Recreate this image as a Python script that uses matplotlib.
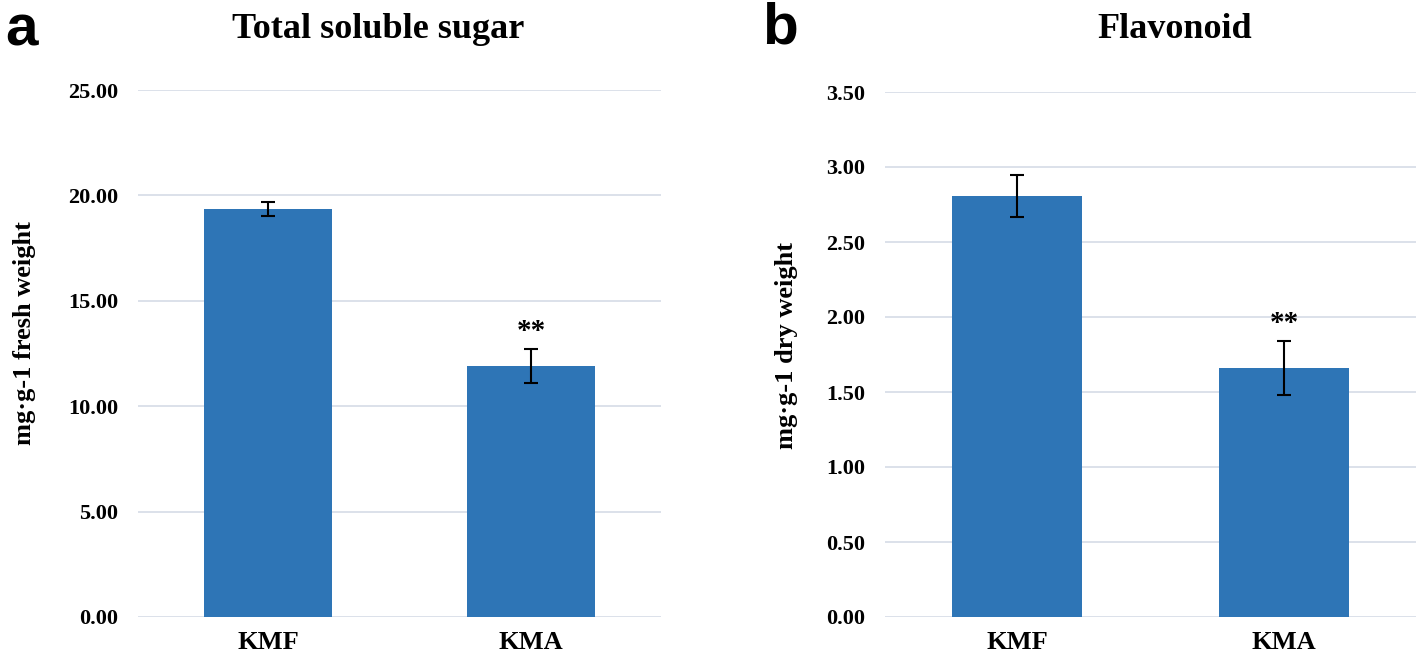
import numpy as np
import matplotlib
matplotlib.use("Agg")
from matplotlib import pyplot as plt

# data
groups = ["KMF", "KMA"]
sugar_mean = [19.35, 11.90]
sugar_err = [0.32, 0.80]
flav_mean = [2.81, 1.66]
flav_err = [0.14, 0.18]
sugar_ticks = [0, 5, 10, 15, 20, 25]
flav_ticks = [0, 0.5, 1.0, 1.5, 2.0, 2.5, 3.0, 3.5]
signif = ["", "**"]

bar_color = "#2E75B6"
grid_color = "#D9DEE8"
serif = "Liberation Serif"

fig = plt.figure(figsize=(14.18, 6.62), dpi=100)
W, H = 1418, 662


def px_axes(x0, x1, ytop, ybot):
    return fig.add_axes([x0 / W, (H - ybot) / H, (x1 - x0) / W, (ybot - ytop) / H])


def panel(ax, means, errs, ticks):
    x = np.arange(len(groups))
    ax.bar(x, means, width=0.49, color=bar_color, zorder=2)
    ax.errorbar(x, means, yerr=errs, fmt="none", ecolor="black",
                elinewidth=1.5, capsize=5, capthick=1.5, zorder=3)
    for xi, m, e, s in zip(x, means, errs, signif):
        if s:
            ax.annotate(s, (xi, m + e), xytext=(0, 4), textcoords="offset pixels",
                        ha="center", va="bottom", fontsize=21, fontweight="bold",
                        family=serif)
    ax.set_xlim(-0.494, 1.494)
    ax.set_ylim(ticks[0], ticks[-1])
    ax.set_yticks(ticks)
    ax.set_yticklabels(["%.2f" % t for t in ticks])
    ax.set_xticks(x)
    ax.set_xticklabels(groups)
    ax.yaxis.grid(True, color=grid_color, linewidth=1.3, zorder=0)
    ax.set_axisbelow(True)
    for sp in ax.spines.values():
        sp.set_visible(False)
    ax.tick_params(length=0)
    ax.tick_params(axis="y", pad=14)
    ax.tick_params(axis="x", pad=10)
    for lab in ax.get_yticklabels():
        lab.set_fontfamily(serif)
        lab.set_fontweight("bold")
        lab.set_fontsize(16)
    for lab in ax.get_xticklabels():
        lab.set_fontfamily(serif)
        lab.set_fontweight("bold")
        lab.set_fontsize(19)


ax1 = px_axes(138, 661, 90, 617)
panel(ax1, sugar_mean, sugar_err, sugar_ticks)

ax2 = px_axes(885, 1416, 92, 617)
panel(ax2, flav_mean, flav_err, flav_ticks)

# titles, y labels, panel letters
fig.text(378 / W, 1 - 30 / H, "Total soluble sugar", ha="center", va="center",
         family=serif, fontweight="bold", fontsize=26)
fig.text(1175 / W, 1 - 30 / H, "Flavonoid", ha="center", va="center",
         family=serif, fontweight="bold", fontsize=26)
fig.text(25 / W, 1 - 333 / H, "mg·g-1 fresh weight", rotation=90, ha="center",
         va="center", family=serif, fontweight="bold", fontsize=19)
fig.text(786 / W, 1 - 345 / H, "mg·g-1 dry weight", rotation=90, ha="center",
         va="center", family=serif, fontweight="bold", fontsize=19)
fig.text(5 / W, 1 - 30 / H, "a", ha="left", va="center",
         family="Liberation Sans", fontweight="bold", fontsize=42)
fig.text(762 / W, 1 - 28 / H, "b", ha="left", va="center",
         family="Liberation Sans", fontweight="bold", fontsize=42)

fig.savefig("out.png", dpi=100)
